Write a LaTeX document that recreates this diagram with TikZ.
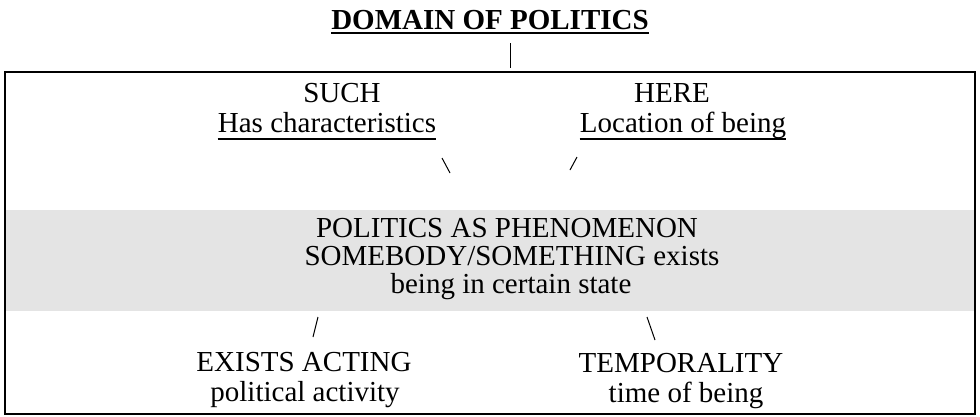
\documentclass[tikz,border=0pt]{standalone}
\usepackage{fontspec}
\setmainfont{Liberation Serif}
\newfontfamily\tnr{Liberation Serif}
\definecolor{bandgray}{RGB}{228,228,228}
\begin{document}
\begin{tikzpicture}[x=1pt,y=-1pt,
  txt/.style={inner sep=0pt,text height=20pt,text depth=6pt,font=\tnr\fontsize{29}{28}\selectfont},
  ttl/.style={inner sep=0pt,font=\tnr\fontsize{29}{34}\selectfont\bfseries},
  ul/.style={line width=2pt},
  tick/.style={line width=1pt}]
\useasboundingbox (0,0) rectangle (980,416);
% band and frame
\fill[bandgray] (5,210) rectangle (975,311);
\draw[line width=2.5pt] (5,72) rectangle (975,414);
% title
\node[ttl,anchor=base] (title) at (490,29) {DOMAIN OF POLITICS};
\draw[ul] ([yshift=-4]title.base west) -- ([yshift=-4]title.base east);
\coordinate (t1) at (510,43);
\coordinate (t2) at (510,68);
\draw[tick] (t1) -- (t2);
% upper labels
\node[txt,anchor=base] (such) at (342,102) {SUCH};
\node[txt,anchor=base] (has) at (327,132) {Has characteristics};
\draw[ul] ([yshift=-7]has.base west) -- ([yshift=-7]has.base east);
\node[txt,anchor=base] (here) at (672,102) {HERE};
\node[txt,anchor=base] (loc) at (683,132) {Location of being};
\draw[ul] ([yshift=-7]loc.base west) -- ([yshift=-7]loc.base east);
\coordinate (a1) at (442,158);
\coordinate (a2) at (450,173);
\draw[tick] (a1) -- (a2);
\coordinate (b1) at (577,157);
\coordinate (b2) at (570,170);
\draw[tick] (b1) -- (b2);
% central band
\node[txt,anchor=base] (pol) at (507,237) {POLITICS AS PHENOMENON};
\node[txt,anchor=base] (some) at (512,265) {SOMEBODY/SOMETHING exists};
\node[txt,anchor=base] (state) at (511,293) {being in certain state};
% lower labels
\coordinate (c1) at (318,317);
\coordinate (c2) at (313,337);
\draw[tick] (c1) -- (c2);
\coordinate (d1) at (647,317);
\coordinate (d2) at (655,340);
\draw[tick] (d1) -- (d2);
\node[txt,anchor=base] (acting) at (304,371) {EXISTS ACTING};
\node[txt,anchor=base] (activity) at (305,401) {political activity};
\node[txt,anchor=base] (temp) at (681,372) {TEMPORALITY};
\node[txt,anchor=base] (time) at (686,402) {time of being};
\end{tikzpicture}
\end{document}
